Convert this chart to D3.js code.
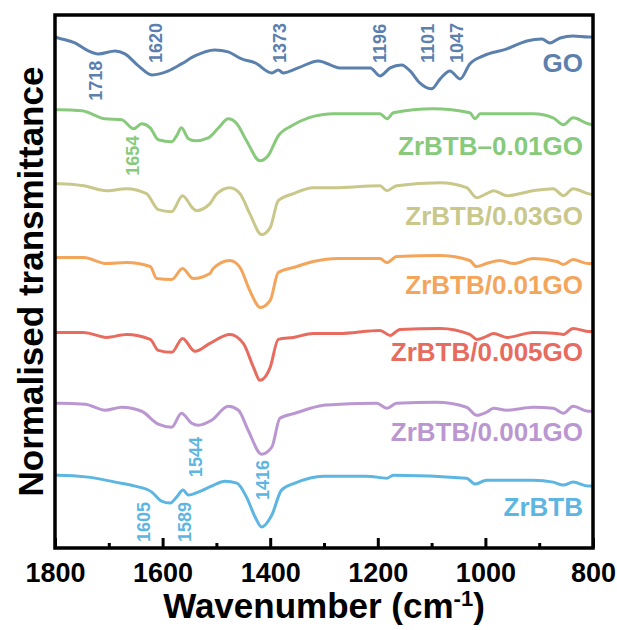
<!DOCTYPE html>
<html>
<head>
<meta charset="utf-8">
<script src="https://cdn.jsdelivr.net/npm/d3@7"></script>
<style>
  body { margin: 0; background: #fff; }
  svg { font-family: "Liberation Sans", Arial, sans-serif; }
</style>
</head>
<body>
<div id="chart"></div>
<script>
// FTIR spectra, [wavenumber (cm-1), normalised transmittance (stacked, a.u.)]
const goSpectrum = [
  [1800, 5.12], [1794, 5.11], [1763, 5.06], [1738, 4.98], [1720, 4.95], [1688, 4.98],
  [1670, 4.95], [1645, 4.83], [1620, 4.74], [1589, 4.78], [1565, 4.85], [1540, 4.93],
  [1503, 4.99], [1478, 4.97], [1453, 4.90], [1428, 4.86], [1397, 4.76], [1385, 4.79],
  [1376, 4.76], [1348, 4.81], [1311, 4.88], [1270, 4.81], [1214, 4.81], [1196, 4.73],
  [1177, 4.81], [1156, 4.84], [1140, 4.78], [1122, 4.66], [1100, 4.60], [1084, 4.70],
  [1066, 4.78], [1047, 4.70], [1029, 4.85], [1004, 4.93], [960, 5.00], [923, 5.08],
  [895, 5.10], [880, 5.06], [861, 5.11], [837, 5.13], [809, 5.12], [800, 5.12]
];
const zrbtbMix001 = [
  [1800, 4.39], [1794, 4.39], [1750, 4.38], [1707, 4.30], [1676, 4.29], [1654, 4.20],
  [1639, 4.25], [1623, 4.21], [1608, 4.09], [1583, 4.07], [1574, 4.13], [1565, 4.21],
  [1552, 4.10], [1540, 4.08], [1515, 4.11], [1496, 4.21], [1478, 4.30], [1462, 4.25],
  [1444, 4.08], [1419, 3.88], [1404, 3.93], [1385, 4.13], [1360, 4.23], [1329, 4.31],
  [1304, 4.34], [1283, 4.35], [1196, 4.35], [1183, 4.30], [1171, 4.36], [1097, 4.40],
  [1029, 4.36], [1019, 4.30], [1010, 4.35], [911, 4.35], [874, 4.31], [855, 4.24],
  [837, 4.31], [809, 4.25], [800, 4.24]
];
const zrbtb003 = [
  [1800, 3.65], [1791, 3.65], [1747, 3.63], [1704, 3.58], [1667, 3.60], [1630, 3.55],
  [1608, 3.39], [1583, 3.37], [1563, 3.53], [1543, 3.40], [1537, 3.38], [1512, 3.45],
  [1499, 3.55], [1475, 3.61], [1456, 3.55], [1438, 3.35], [1416, 3.14], [1400, 3.21],
  [1385, 3.48], [1357, 3.55], [1320, 3.61], [1283, 3.61], [1196, 3.63], [1183, 3.58],
  [1165, 3.63], [1084, 3.66], [1035, 3.61], [1016, 3.51], [998, 3.55], [985, 3.58],
  [960, 3.53], [911, 3.58], [874, 3.60], [855, 3.53], [837, 3.60], [809, 3.55], [800, 3.54]
];
const zrbtb001 = [
  [1800, 2.91], [1791, 2.91], [1747, 2.91], [1704, 2.85], [1667, 2.86], [1623, 2.82],
  [1611, 2.70], [1583, 2.69], [1563, 2.80], [1543, 2.70], [1512, 2.75], [1506, 2.80],
  [1475, 2.88], [1456, 2.81], [1438, 2.58], [1418, 2.41], [1400, 2.48], [1385, 2.76],
  [1357, 2.81], [1320, 2.87], [1273, 2.90], [1196, 2.90], [1183, 2.86], [1165, 2.92],
  [1084, 2.93], [1029, 2.88], [1017, 2.82], [998, 2.85], [973, 2.88], [948, 2.85],
  [911, 2.90], [867, 2.87], [855, 2.84], [837, 2.89], [809, 2.85], [800, 2.85]
];
const zrbtb0005 = [
  [1800, 2.16], [1791, 2.16], [1747, 2.16], [1704, 2.11], [1667, 2.14], [1623, 2.09],
  [1608, 1.98], [1583, 1.96], [1563, 2.10], [1540, 1.97], [1512, 2.05], [1475, 2.14],
  [1450, 2.05], [1431, 1.81], [1419, 1.68], [1400, 1.81], [1385, 2.09], [1357, 2.11],
  [1320, 2.15], [1273, 2.15], [1196, 2.18], [1177, 2.13], [1159, 2.19], [1084, 2.20],
  [1029, 2.14], [1016, 2.09], [998, 2.12], [985, 2.15], [960, 2.11], [911, 2.16],
  [867, 2.15], [855, 2.14], [837, 2.20], [809, 2.17], [800, 2.17]
];
const zrbtb0001 = [
  [1800, 1.45], [1794, 1.45], [1744, 1.44], [1707, 1.38], [1676, 1.41], [1639, 1.37],
  [1608, 1.24], [1583, 1.21], [1565, 1.35], [1546, 1.25], [1534, 1.23], [1509, 1.28],
  [1478, 1.42], [1459, 1.38], [1441, 1.18], [1416, 0.94], [1397, 1.01], [1382, 1.30],
  [1354, 1.35], [1301, 1.43], [1270, 1.44], [1202, 1.45], [1183, 1.40], [1165, 1.45],
  [1091, 1.46], [1035, 1.41], [1016, 1.33], [998, 1.36], [985, 1.40], [960, 1.38],
  [911, 1.41], [874, 1.40], [855, 1.35], [837, 1.42], [809, 1.37], [800, 1.37]
];
const zrbtbPure = [
  [1800, 0.73], [1794, 0.73], [1738, 0.71], [1688, 0.66], [1651, 0.62], [1620, 0.56],
  [1602, 0.47], [1586, 0.45], [1574, 0.51], [1562, 0.58], [1552, 0.53], [1534, 0.56],
  [1509, 0.62], [1484, 0.67], [1462, 0.65], [1444, 0.51], [1428, 0.31], [1416, 0.21],
  [1397, 0.33], [1379, 0.58], [1354, 0.65], [1301, 0.72], [1221, 0.72], [1183, 0.70],
  [1171, 0.73], [1035, 0.70], [1019, 0.64], [998, 0.68], [911, 0.68], [874, 0.66],
  [855, 0.63], [837, 0.66], [809, 0.62], [800, 0.62]
];

const seriesNames = ["GO", "ZrBTB\u20130.01GO", "ZrBTB/0.03GO", "ZrBTB/0.01GO",
  "ZrBTB/0.005GO", "ZrBTB/0.001GO", "ZrBTB"];
const seriesData = [goSpectrum, zrbtbMix001, zrbtb003, zrbtb001, zrbtb0005, zrbtb0001, zrbtbPure];
const seriesColors = ["#5b80ae", "#88ca7b", "#c9c78a", "#f3a55c", "#e76b5e", "#bb97d1", "#5db6e2"];

// peak annotations: label, where it sits (wavenumber, value at text start), series colour index
const peakLabels = ["1718", "1620", "1373", "1196", "1101", "1047", "1654", "1544", "1416", "1605", "1589"];
const peakAt = [1724, 1614, 1382, 1196, 1107, 1053, 1655, 1538, 1415, 1636, 1560];
const peakBase = [4.48, 4.86, 4.86, 4.86, 4.86, 4.86, 3.73, 0.71, 0.48, 0.06, 0.06];
const peakSeries = [0, 0, 0, 0, 0, 0, 1, 6, 6, 6, 6];

const majorTicks = [1800, 1600, 1400, 1200, 1000, 800];
const minorTicks = [1700, 1500, 1300, 1100, 900];

function drawSpectra() {
    const margin = { top: 15, right: 24, bottom: 82, left: 55 };
    const totalW = 617, totalH = 630;
    const width = totalW - margin.left - margin.right;
    const height = totalH - margin.top - margin.bottom;

    const svg = d3.select("#chart")
        .append("svg")
        .attr("width", totalW)
        .attr("height", totalH)
        .append("g")
        .attr("transform", `translate(${margin.left},${margin.top})`);

    // reversed wavenumber axis
    const x = d3.scaleLinear().domain([1800, 800]).range([0, width]);
    const y = d3.scaleLinear().domain([0, 5.34]).range([height, 0]);

    const line = d3.line()
        .x(d => x(d[0]))
        .y(d => y(d[1]))
        .curve(d3.curveMonotoneX);

    // spectra
    svg.selectAll(".spectrum")
        .data(seriesData)
        .enter()
        .append("path")
        .attr("class", "spectrum")
        .attr("d", line)
        .attr("fill", "none")
        .attr("stroke", (d, i) => seriesColors[i])
        .attr("stroke-width", 3)
        .attr("stroke-linejoin", "round");

    // series names, right aligned under each trace
    svg.selectAll(".series-label")
        .data(seriesData)
        .enter()
        .append("text")
        .attr("class", "series-label")
        .attr("x", width - 10)
        .attr("y", (d, i) => y(d[d.length - 1][1]) + (i === 0 ? 35 : 30))
        .attr("text-anchor", "end")
        .style("font-size", "26px")
        .style("font-weight", "bold")
        .style("fill", (d, i) => seriesColors[i])
        .text((d, i) => seriesNames[i]);

    // peak positions, written vertically
    svg.selectAll(".peak")
        .data(peakLabels)
        .enter()
        .append("text")
        .attr("class", "peak")
        .attr("transform", (d, i) => `translate(${x(peakAt[i])},${y(peakBase[i])}) rotate(-90)`)
        .attr("dy", "0.36em")
        .style("font-size", "18px")
        .style("font-weight", "bold")
        .style("fill", (d, i) => seriesColors[peakSeries[i]])
        .text(d => d);

    // major ticks with labels, pointing inwards
    const xAxis = svg.append("g")
        .attr("transform", `translate(0,${height})`)
        .call(d3.axisBottom(x)
            .tickValues(majorTicks)
            .tickSize(-10)
            .tickPadding(15)
            .tickFormat(d3.format("d")));
    xAxis.select(".domain").remove();
    xAxis.selectAll("line").attr("stroke", "#000").attr("stroke-width", 3);
    xAxis.selectAll("text")
        .style("font-size", "27px")
        .style("font-weight", "bold")
        .style("fill", "#000");

    // minor ticks
    const xMinor = svg.append("g")
        .attr("transform", `translate(0,${height})`)
        .call(d3.axisBottom(x).tickValues(minorTicks).tickSize(-5).tickFormat(""));
    xMinor.select(".domain").remove();
    xMinor.selectAll("line").attr("stroke", "#000").attr("stroke-width", 3);

    // plot frame
    svg.append("rect")
        .attr("x", 0)
        .attr("y", 0)
        .attr("width", width)
        .attr("height", height)
        .attr("fill", "none")
        .attr("stroke", "#000")
        .attr("stroke-width", 3.5);

    // axis titles
    const xTitle = svg.append("text")
        .attr("x", width / 2)
        .attr("y", height + 70)
        .attr("text-anchor", "middle")
        .style("font-size", "35px")
        .style("font-weight", "bold")
        .style("fill", "#000");
    xTitle.append("tspan").text("Wavenumber (cm");
    xTitle.append("tspan").attr("dy", "-0.55em").style("font-size", "22px").text("-1");
    xTitle.append("tspan").attr("dy", "0.35em").text(")");

    svg.append("text")
        .attr("transform", "rotate(-90)")
        .attr("x", -height / 2)
        .attr("y", -12)
        .attr("text-anchor", "middle")
        .style("font-size", "35px")
        .style("font-weight", "bold")
        .style("fill", "#000")
        .text("Normalised transmittance");
}

drawSpectra();
</script>
</body>
</html>
